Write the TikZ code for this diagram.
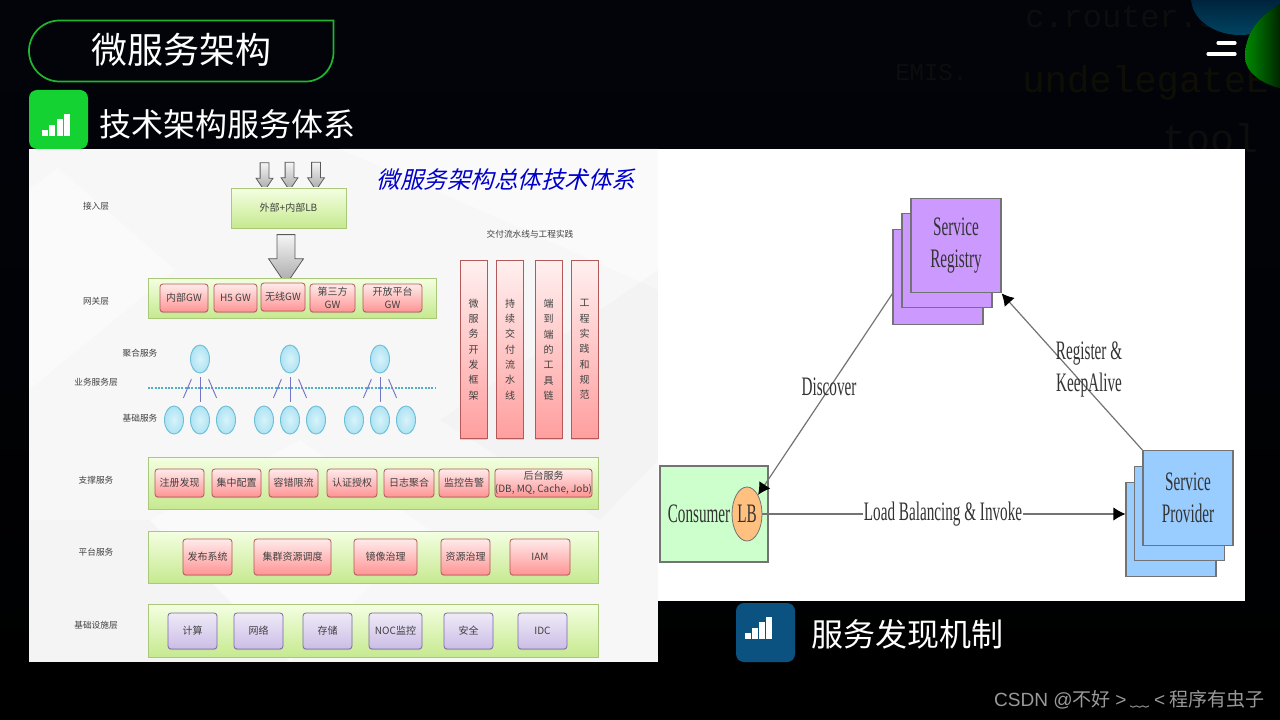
\documentclass[tikz,border=0pt]{standalone}
\usepackage{fontspec}
\setmainfont{Noto Sans CJK SC}
\newfontfamily\slantcjk[FakeSlant=0.25]{Noto Sans CJK SC}
\newfontfamily\narrowserif[FakeStretch=0.57]{Liberation Serif}
\newfontfamily\latinsans{Liberation Sans}
\newfontfamily\codemono{Liberation Mono}
\usepackage{tikz}
\usetikzlibrary{arrows.meta,calc,positioning,shapes.geometric,shapes.arrows,shadows}
\definecolor{page-dark}{HTML}{02040A}
\definecolor{title-green}{HTML}{1FB52F}
\definecolor{icon-green}{HTML}{14D232}
\definecolor{icon-blue}{HTML}{0B5280}
\definecolor{band-top}{HTML}{F4FFE2}
\definecolor{band-low}{HTML}{C6E98F}
\definecolor{band-line}{HTML}{A9C87A}
\definecolor{violet-top}{HTML}{EFEAF7}
\definecolor{violet-low}{HTML}{CBBDE6}
\definecolor{violet-line}{HTML}{7D6AA8}
\definecolor{ball-in}{HTML}{D8F3FA}
\definecolor{ball-out}{HTML}{AEE3F3}
\definecolor{ball-line}{HTML}{70BFD8}
\definecolor{dots}{HTML}{4FAFC6}
\definecolor{reg-fill}{HTML}{CC99FF}
\definecolor{prov-fill}{HTML}{99CCFF}
\definecolor{cons-fill}{HTML}{CCFFCC}
\definecolor{lb-fill}{HTML}{FFC080}
\definecolor{code-grey}{HTML}{0D0D0D}
\definecolor{code-olive}{HTML}{0E0E05}
\tikzset{
  node-title/.style={text=white,font=\fontsize{27}{27}\selectfont,inner sep=0pt},
  node-sub/.style={text=white,font=\fontsize{24}{24}\selectfont,inner sep=0pt},
  node-label/.style={text=black!75,font=\fontsize{6.5}{7}\selectfont,inner sep=0pt},
  node-band/.style 2 args={draw=band-line,top color=band-top,bottom color=band-low,line width=0.6pt,minimum width=#1*0.75pt,minimum height=#2*0.75pt,inner sep=0pt,drop shadow={shadow xshift=0pt,shadow yshift=-0.8pt,opacity=0.35}},
  node-r/.style 2 args={draw=red!55!black!65,top color=red!8,bottom color=red!42,line width=0.6pt,rounded corners=2.2pt,minimum width=#1*0.75pt,minimum height=#2*0.75pt,inner sep=0pt,align=center,text=black!75,font=\fontsize{7.5}{9.5}\selectfont,drop shadow={shadow xshift=0pt,shadow yshift=-0.8pt,opacity=0.3}},
  node-p/.style 2 args={draw=violet-line,top color=violet-top,bottom color=violet-low,line width=0.6pt,rounded corners=2.2pt,minimum width=#1*0.75pt,minimum height=#2*0.75pt,inner sep=0pt,text=black!75,font=\fontsize{7.5}{9.5}\selectfont,drop shadow={shadow xshift=0pt,shadow yshift=-0.8pt,opacity=0.3}},
  node-v/.style={draw=red!55!black!65,top color=red!6,bottom color=red!38,line width=0.6pt,minimum width=20.25pt,minimum height=134pt,inner sep=0pt,align=center,text=black!75,font=\fontsize{7.5}{11.5}\selectfont,drop shadow={shadow xshift=0pt,shadow yshift=-0.8pt,opacity=0.3}},
  node-c/.style={ellipse,draw=ball-line,inner color=ball-in,outer color=ball-out,line width=0.7pt,minimum width=14.25pt,minimum height=21pt,inner sep=0pt},
  node-down/.style 2 args={single arrow,shape border rotate=270,single arrow tip angle=68,draw=black!65,top color=black!4,bottom color=black!35,line width=0.6pt,inner sep=#1,single arrow head extend=#1,minimum height=#2,outer sep=0pt},
  node-s/.style={draw=black!55,line width=0.8pt,minimum width=67.5pt,minimum height=71pt,inner sep=0pt,align=center,text=black!80,font=\narrowserif\fontsize{20}{24}\selectfont},
  edge-text/.style={text=black!80,align=center,inner sep=1pt,font=\narrowserif\fontsize{20}{24}\selectfont},
  call/.style={-{Latex[length=9pt,width=10pt,color=black]},line width=0.9pt,black!55},
  tick/.style={line width=0.7pt,blue!45!gray!75},
  faint/.style={font=\codemono\fontsize{#1}{#1}\selectfont,inner sep=0pt,anchor=west},
}

\begin{document}
\begin{tikzpicture}[x=0.75pt,y=-0.75pt]
  \useasboundingbox (0,0) rectangle (1280,720);
  \fill[top color=page-dark,bottom color=black] (0,0) rectangle (1280,720);

  % BACKDROP: code behind the slide
  \begin{scope}
    \clip (0,0) rectangle (1280,720);
    \node[faint=24,text=code-grey] (codea) at (1025,17) {c.router.s};
    \node[faint=18,text=code-grey] (codeb) at (895,73) {EMIS.};
    \node[faint=28,text=code-olive] (codec) at (1022,83) {undelegateE};
    \node[faint=30,text=code-grey] (coded) at (1162,138) {tool};
    \fill[top color=black!90!blue,bottom color=blue!30!cyan!45!black,opacity=0.85] (1240,-2) ellipse [x radius=49,y radius=37];
    \fill[left color=green!60!black,right color=green!12!black,opacity=0.9] (1284,2) .. controls (1252,18) and (1245,40) .. (1245,57) .. controls (1245,72) and (1262,85) .. (1284,89) -- cycle;
  \end{scope}
  \draw[white,line width=2.4pt,line cap=round] (1218,43) -- (1235,43);
  \draw[white,line width=2.4pt,line cap=round] (1208,54) -- (1235,54);

  % HEADER
  \draw[title-green,line width=1.3pt] (333.5,20.5) -- (59.5,20.5) arc[start angle=90,end angle=270,radius=30.5*0.75pt] -- (306,81.5) .. controls (322,81.5) and (333.5,68) .. (333.5,52) -- cycle;
  \node[node-title] (title) at (181.5,50) {微服务架构};
  \fill[icon-green,rounded corners=6pt] (29,90) rectangle (88,149);
  \node[node-sub,anchor=west] (subleft) at (99,124.5) {技术架构服务体系};
  \foreach \bx/\bh in {45/6,52/11,59.5/17,67/22}
    \fill[white] (\bx-3,136) rectangle (\bx+3,136-\bh);

  % PANEL 1: white sheet on the left
  \fill[black!3] (29,149) rectangle (658,662);
  \fill[white,opacity=0.4] (29,190) -- (58,168) -- (175,270) -- (29,390) -- cycle;
  \fill[white,opacity=0.4] (340,149) -- (658,149) -- (658,290) -- (480,210) -- cycle;
  \fill[black,opacity=0.015] (440,420) -- (658,270) -- (658,460) -- (600,520) -- cycle;
  \fill[white,opacity=0.4] (150,520) -- (300,440) -- (430,530) -- (290,662) -- cycle;
  \fill[black,opacity=0.01] (29,520) -- (150,520) -- (290,662) -- (29,662) -- cycle;

  \node[text=blue!80!black,font=\slantcjk\fontsize{17.6}{18}\selectfont,inner sep=0pt] (sheetname) at (506,180) {微服务架构总体技术体系};

  \node[node-label] (l1) at (96,206) {接入层};
  \node[node-label] (l2) at (96,301) {网关层};
  \node[node-label] (l3) at (140,353) {聚合服务};
  \node[node-label] (l4) at (96,382) {业务服务层};
  \node[node-label] (l5) at (140,418) {基础服务};
  \node[node-label] (l6) at (96,480) {支撑服务};
  \node[node-label] (l7) at (96,552) {平台服务};
  \node[node-label] (l8) at (96,625) {基础设施层};
  \node[node-label] (l9) at (530,234) {交付流水线与工程实践};

  % LAYER 1: entry
  \node[node-down={3pt}{21pt}] (in1) at (264.5,173.5) {};
  \node[node-down={3pt}{21pt}] (in2) at (289.5,173) {};
  \node[node-down={3pt}{21pt}] (in3) at (316,173) {};
  \node[node-band={115}{40},text=black!75,font=\fontsize{7.5}{9}\selectfont] (lb-out) at (288.5,208) {外部+内部LB};
  \node[node-down={6.4pt}{37.5pt}] (lb-down) at (286,253) {};

  % LAYER 2: gateway
  \node[node-band={288}{40}] (gw) at (292,298) {};
  \node[node-r={48}{28}] (gw1) at (184,298) {内部GW};
  \node[node-r={43}{28}] (gw2) at (235.5,298) {H5 GW};
  \node[node-r={44}{28}] (gw3) at (283,297) {无线GW};
  \node[node-r={45}{28}] (gw4) at (332.5,298) {第三方\\GW};
  \node[node-r={59}{28}] (gw5) at (392.5,298) {开放平台\\GW};

  % LAYER 3: services
  \draw[dots,line width=2pt,dash pattern=on 1.6pt off 0.9pt] (148,388) -- (436,388);
  \foreach \cid/\cx in {a/200,b/290,c/380}{
    \node[node-c] (top\cid) at (\cx,359) {};
    \node[node-c] (low\cid1) at (\cx-26,420) {};
    \node[node-c] (low\cid2) at (\cx,420) {};
    \node[node-c] (low\cid3) at (\cx+26,420) {};
    \draw[tick,shorten <=6.5pt,shorten >=8pt] (top\cid) -- (low\cid1);
    \draw[tick,shorten <=3pt,shorten >=3pt] (top\cid) -- (low\cid2);
    \draw[tick,shorten <=6.5pt,shorten >=8pt] (top\cid) -- (low\cid3);
  }

  % COLUMN: delivery
  \node[node-v] (dv1) at (473.5,349.5) {微\\服\\务\\开\\发\\框\\架};
  \node[node-v] (dv2) at (510,349.5) {持\\续\\交\\付\\流\\水\\线};
  \node[node-v] (dv3) at (548.5,349.5) {端\\到\\端\\的\\工\\具\\链};
  \node[node-v] (dv4) at (584.5,349.5) {工\\程\\实\\践\\和\\规\\范};

  % LAYER 4: support
  \node[node-band={450}{52}] (sup) at (373,483) {};
  \node[node-r={49}{28}] (sup1) at (179.5,483) {注册发现};
  \node[node-r={49}{28}] (sup2) at (236.5,483) {集中配置};
  \node[node-r={49}{28}] (sup3) at (293.5,483) {容错限流};
  \node[node-r={50}{28}] (sup4) at (352,483) {认证授权};
  \node[node-r={50}{28}] (sup5) at (409,483) {日志聚合};
  \node[node-r={50}{28}] (sup6) at (464,483) {监控告警};
  \node[node-r={95}{28}] (sup7) at (543.5,483) {后台服务\\(DB, MQ, Cache, Job)};

  % LAYER 5: platform
  \node[node-band={450}{52}] (plat) at (373,557) {};
  \node[node-r={49}{36}] (plat1) at (207.5,557) {发布系统};
  \node[node-r={77}{36}] (plat2) at (292.5,557) {集群资源调度};
  \node[node-r={63}{36}] (plat3) at (385.5,557) {镜像治理};
  \node[node-r={49}{36}] (plat4) at (465.5,557) {资源治理};
  \node[node-r={60}{36}] (plat5) at (540,557) {IAM};

  % LAYER 6: infrastructure
  \node[node-band={450}{53}] (infra) at (373,630.5) {};
  \node[node-p={49}{36}] (inf1) at (192.5,631) {计算};
  \node[node-p={49}{36}] (inf2) at (258.5,631) {网络};
  \node[node-p={49}{36}] (inf3) at (327.5,631) {存储};
  \node[node-p={53}{36}] (inf4) at (395.5,631) {NOC监控};
  \node[node-p={49}{36}] (inf5) at (468.5,631) {安全};
  \node[node-p={49}{36}] (inf6) at (542.5,631) {IDC};

  % PANEL 2: white sheet on the right
  \fill[white] (658,149) rectangle (1245,601);

  \node[node-s,fill=reg-fill] (regc) at (938,277) {};
  \node[node-s,fill=reg-fill] (regb) at (947,260.5) {};
  \node[node-s,fill=reg-fill] (rega) at (956,245.5) {Service\\Registry};

  \node[node-s,fill=prov-fill] (provc) at (1171,529.5) {};
  \node[node-s,fill=prov-fill] (provb) at (1179.5,513.5) {};
  \node[node-s,fill=prov-fill] (prova) at (1188,498) {Service\\Provider};

  \node[draw=black!55,fill=cons-fill,line width=0.8pt,minimum width=81pt,minimum height=72pt,inner sep=0pt] (cons) at (714,514) {};
  \node[edge-text] (constext) at (699,514) {Consumer};
  \node[ellipse,draw=black!55,fill=lb-fill,line width=0.6pt,minimum width=22.5pt,minimum height=40.5pt,inner sep=0pt,font=\narrowserif\fontsize{20}{24}\selectfont,text=black!80] (lb) at (747,514) {LB};

  \draw[call] (regc.200) -- (lb.60);
  \draw[call] (prova.north west) -- (rega.south east);
  \draw[call] (lb) -- (provc.west |- lb);

  \node[edge-text,fill=white] (invoke) at (943,514) {Load Balancing \& Invoke};
  \node[edge-text] (discover) at (829,387) {Discover};
  \node[edge-text] (register) at (1089,369) {Register \&\\KeepAlive};

  % FOOTER
  \fill[icon-blue,rounded corners=6pt] (736,603) rectangle (795,662);
  \foreach \bx/\bh in {747.5/6,754.5/11,761.5/17,769/22}
    \fill[white] (\bx-3,639) rectangle (\bx+3,639-\bh);
  \node[node-sub,anchor=west] (subright) at (811,634) {服务发现机制};
  \node[text=black!40!white,inner sep=0pt,anchor=east,font=\fontsize{14.3}{15}\selectfont] (mark) at (1265,700) {{\latinsans CSDN @}不好 {\latinsans >} ﹏ {\latinsans <} 程序有虫子};

\end{tikzpicture}
\end{document}
